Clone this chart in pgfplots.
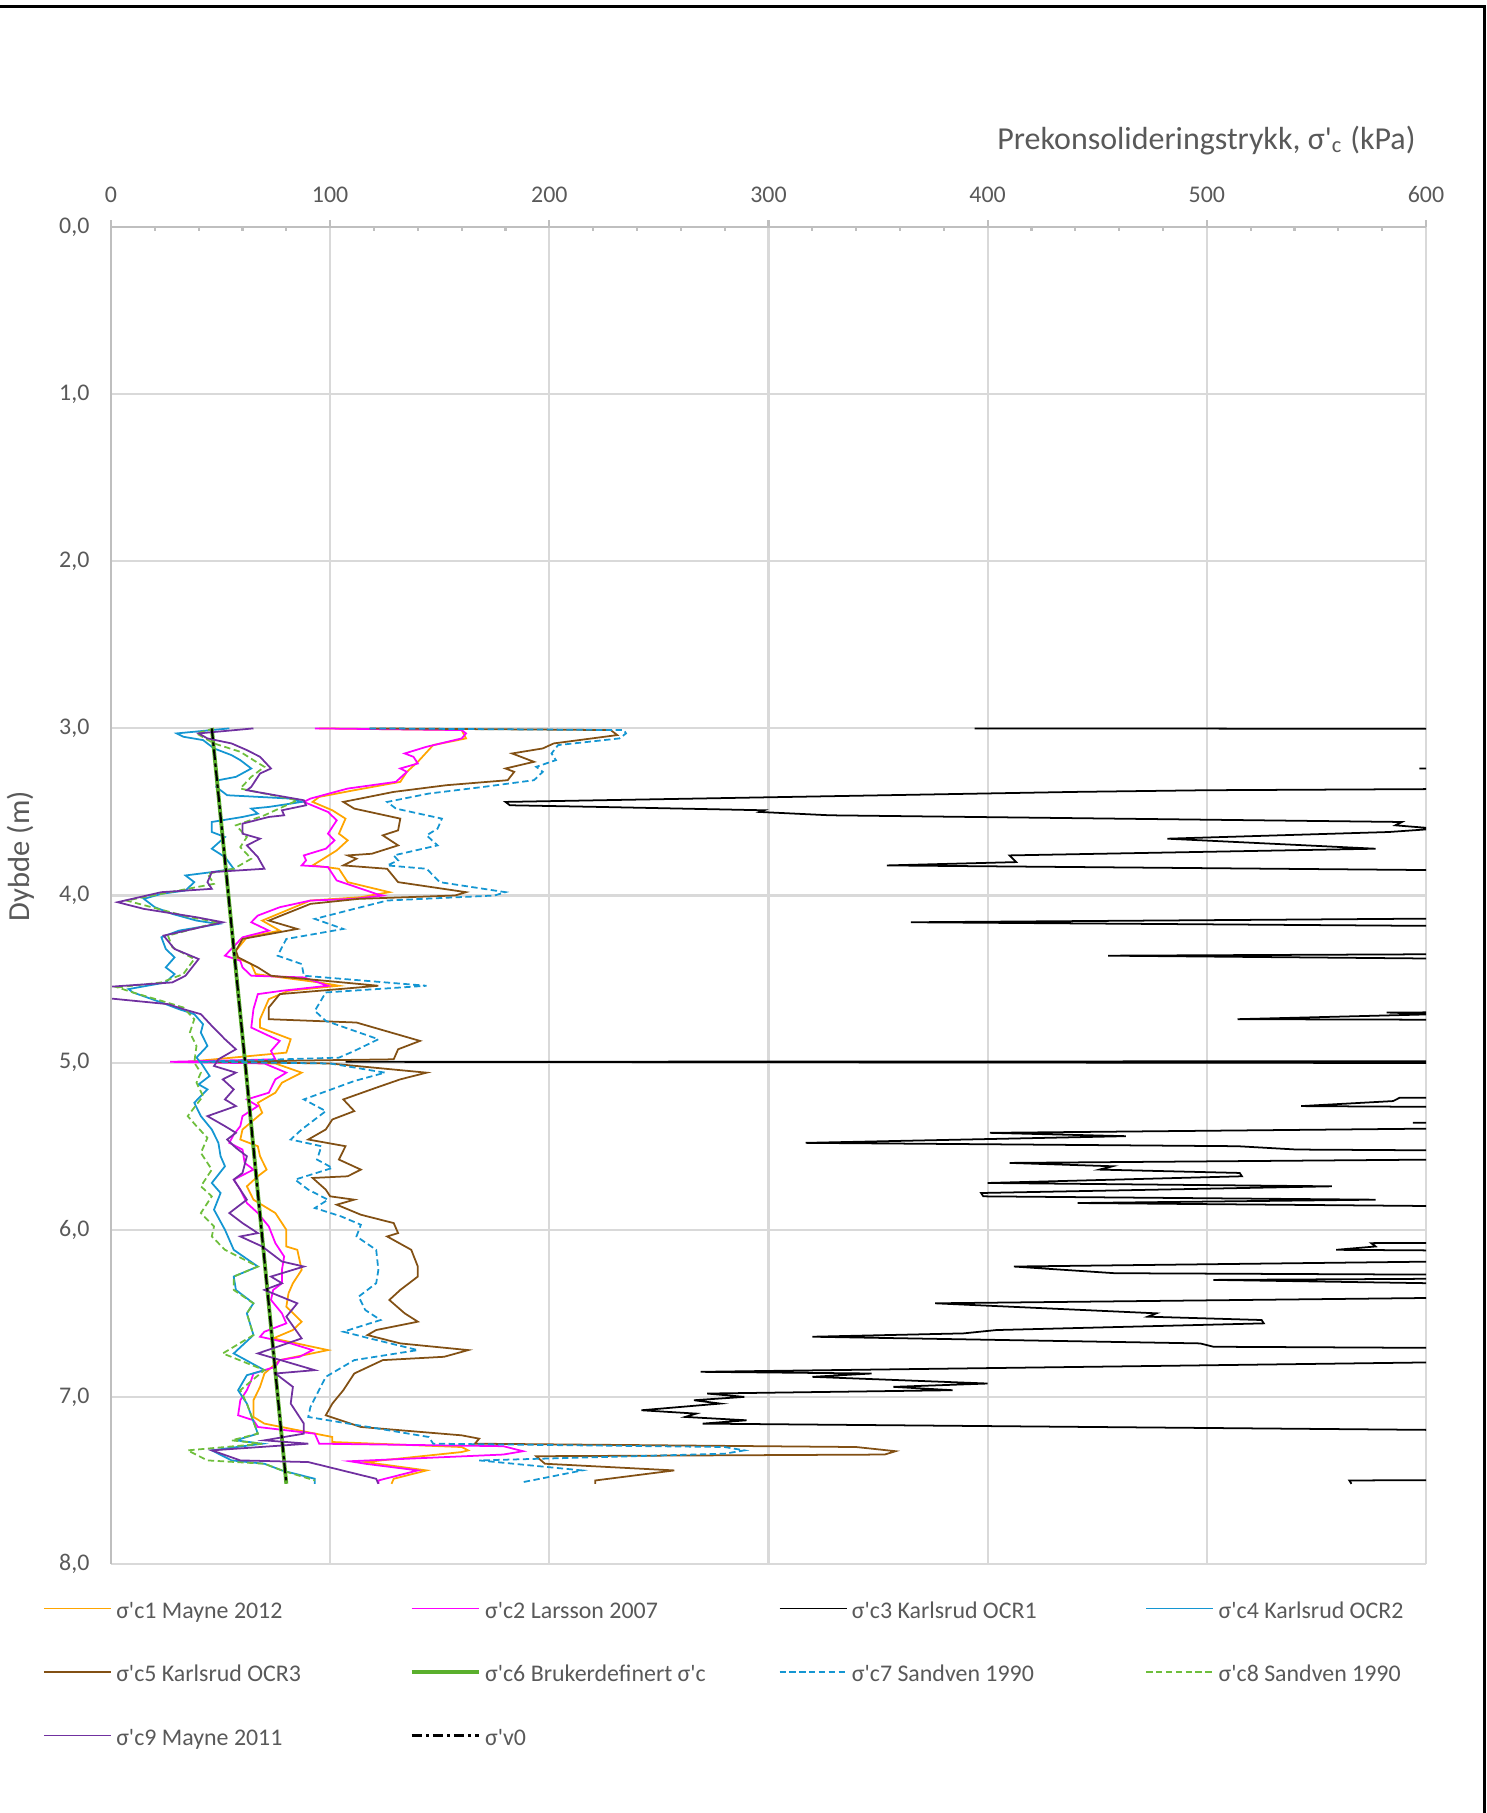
\documentclass[border=0pt]{standalone}
\usepackage{fontspec}
\setmainfont{Carlito}
\usepackage{pgfplots}
\pgfplotsset{compat=1.18}
\definecolor{cOr}{RGB}{255,165,0}
\definecolor{cMa}{RGB}{255,0,255}
\definecolor{cBl}{RGB}{20,150,210}
\definecolor{cBr}{RGB}{130,80,20}
\definecolor{cGr}{RGB}{90,175,45}
\definecolor{cGd}{RGB}{110,190,60}
\definecolor{cPu}{RGB}{112,48,160}
\definecolor{txt}{RGB}{89,89,89}
\definecolor{gridc}{RGB}{217,217,217}
\definecolor{axc}{RGB}{191,191,191}
\newcommand\q{\textquotesingle}
\newcommand\lgE[1]{\makebox[2.935cm][l]{#1}}
\begin{document}
\begin{tikzpicture}
\path[use as bounding box] (0,0) rectangle (14.87,18.13);
\begin{axis}[
  scale only axis, width=13.15cm, height=13.37cm,
  at={(1.11cm,2.49cm)}, anchor=south west,
  xmin=0, xmax=600, ymin=0, ymax=8, y dir=reverse,
  xtick={0,100,...,600}, ytick={0,1,...,8},
  major tick length=0pt, minor tick length=0pt,
  xticklabel pos=right,
  grid=major, major grid style={gridc, line width=0.6pt},
  axis line style={draw=none},
  clip mode=individual,
  /pgf/number format/assume math mode=true,
  ticklabel style={font=\fontsize{6.8}{8}\selectfont, text=txt},
  xticklabel style={yshift=1.19mm},
  yticklabel style={xshift=-0.92mm, /pgf/number format/.cd, fixed, fixed zerofill, precision=1, use comma},
  xlabel={Prekonsolideringstrykk, σ\q\textsubscript{c} (kPa)},
  xlabel style={at={(axis description cs:0.9925,1.0647)}, anchor=east, font=\fontsize{9.1}{11}\selectfont, text=txt, inner sep=0pt},
  ylabel={Dybde (m)},
  ylabel style={at={(axis description cs:-0.0684,0.5295)}, anchor=center, font=\fontsize{8.7}{10}\selectfont, text=txt, inner sep=0pt},
  legend columns=4,
  legend cell align=left,
  legend image code/.code={\draw[#1] (0cm,0.035cm) -- (0.67cm,0.035cm);},
  legend style={at={(axis description cs:-0.0517,-0.0277)}, anchor=north west, draw=none, fill=none,
    font=\fontsize{6.8}{8}\selectfont, text=txt, inner sep=0pt, outer sep=0pt,
    nodes={inner sep=0pt, text height=1.7mm, text depth=0.5mm},
    row sep=4.15mm, column sep=0pt,
    /tikz/every odd column/.append style={column sep=0.45mm}},
]
% sigma'c1 Mayne 2012
\addplot[cOr, line width=0.5pt] coordinates {
(95,3.00) (160,3.01) (162,3.06) (147,3.10) (140,3.20) (135,3.26) (132,3.32) (111,3.37) (95,3.41) (92,3.44) (101,3.49) (107,3.54) (104,3.63) (108,3.67) (103,3.73) (92,3.82) (104,3.84) (108,3.92) (127,3.98) (114,4.01) (91,4.03) (80,4.09) (69,4.15) (77,4.21) (62,4.25) (57,4.33) (57,4.37) (64,4.41) (66,4.47) (95,4.52) (104,4.54) (81,4.57) (72,4.62) (68,4.74) (68,4.79) (82,4.86) (80,4.94) (35,4.995) (75,5.005) (87,5.06) (78,5.12) (75,5.18) (67,5.24) (69,5.30) (60,5.40) (59,5.46) (67,5.50) (68,5.56) (71,5.64) (67,5.68) (62,5.74) (65,5.82) (75,5.90) (80,6.00) (80,6.10) (85,6.12) (87,6.24) (83,6.32) (81,6.38) (80,6.46) (87,6.55) (83,6.60) (74,6.65) (99,6.72) (77,6.78) (70,6.86) (68,6.94) (65,7.02) (65,7.12) (70,7.16) (101,7.24) (101,7.27) (160,7.30) (163,7.32) (160,7.33) (116,7.39) (144,7.44) (129,7.49) (128,7.52)
};
\addlegendentry{\lgE{σ\q c1 Mayne 2012}}
% sigma'c2 Larsson 2007
\addplot[cMa, line width=0.5pt] coordinates {
(93,3.00) (160,3.01) (162,3.03) (160,3.06) (144,3.11) (134,3.15) (138,3.17) (140,3.21) (132,3.24) (135,3.26) (130,3.32) (108,3.36) (91,3.42) (88,3.44) (99,3.50) (103,3.55) (99,3.63) (102,3.67) (98,3.72) (88,3.76) (89,3.79) (87,3.82) (99,3.83) (103,3.91) (121,3.99) (124,4.00) (111,4.02) (91,4.03) (77,4.07) (67,4.12) (64,4.16) (72,4.21) (60,4.25) (52,4.36) (59,4.39) (60,4.43) (64,4.48) (88,4.49) (99,4.54) (78,4.57) (67,4.59) (65,4.68) (64,4.79) (77,4.87) (73,4.93) (75,4.98) (27,4.995) (70,5.005) (80,5.06) (75,5.10) (72,5.18) (62,5.22) (67,5.26) (60,5.32) (59,5.38) (56,5.43) (54,5.48) (60,5.52) (61,5.60) (65,5.64) (56,5.70) (59,5.76) (62,5.84) (67,5.90) (72,5.98) (75,6.08) (79,6.16) (78,6.24) (78,6.32) (74,6.36) (73,6.42) (78,6.50) (80,6.56) (70,6.61) (68,6.64) (82,6.68) (92,6.72) (86,6.76) (77,6.78) (75,6.82) (70,6.84) (65,6.86) (64,6.90) (62,6.96) (59,7.02) (58,7.11) (65,7.14) (67,7.18) (93,7.22) (95,7.28) (179,7.295) (188,7.325) (179,7.345) (109,7.385) (116,7.40) (140,7.44) (122,7.50) (122,7.52)
};
\addlegendentry{\lgE{σ\q c2 Larsson 2007}}
% sigma'c3 Karlsrud OCR1
\addplot[black, line width=0.5pt] coordinates {
(394,3.00) (800,3.005) (800,3.23) (597,3.24) (800,3.25) (800,3.34) (650,3.36) (500,3.37) (440,3.38) (223,3.43) (180,3.44) (182,3.46) (223,3.47) (298,3.49) (296,3.50) (328,3.52) (589,3.56) (586,3.58) (605,3.60) (583,3.62) (482,3.66) (577,3.72) (410,3.76) (413,3.80) (354,3.82) (800,3.87) (800,4.12) (365,4.16) (800,4.20) (800,4.34) (455,4.36) (800,4.40) (800,4.69) (582,4.70) (605,4.71) (514,4.74) (800,4.75) (800,4.99) (107,4.995) (800,5.005) (800,5.20) (588,5.21) (585,5.23) (543,5.26) (800,5.28) (800,5.35) (594,5.36) (800,5.37) (401,5.42) (463,5.44) (317,5.48) (514,5.50) (541,5.52) (800,5.54) (800,5.56) (410,5.60) (457,5.62) (451,5.64) (515,5.66) (516,5.68) (400,5.72) (557,5.74) (397,5.78) (398,5.80) (577,5.82) (441,5.84) (800,5.88) (800,6.07) (575,6.08) (577,6.10) (559,6.12) (800,6.14) (800,6.16) (412,6.22) (458,6.26) (800,6.28) (503,6.30) (800,6.36) (800,6.38) (376,6.44) (477,6.50) (473,6.52) (525,6.54) (526,6.56) (404,6.60) (389,6.62) (320,6.64) (497,6.68) (503,6.70) (800,6.72) (800,6.76) (269,6.85) (347,6.86) (320,6.88) (400,6.92) (357,6.94) (384,6.96) (272,6.98) (289,7.00) (266,7.02) (278,7.04) (242,7.08) (267,7.10) (262,7.12) (290,7.14) (270,7.16) (800,7.22) (800,7.49) (565,7.50) (566,7.52)
};
\addlegendentry{\lgE{σ\q c3 Karlsrud OCR1}}
% sigma'c4 Karlsrud OCR2
\addplot[cBl, line width=0.5pt] coordinates {
(54,3.00) (30,3.03) (33,3.05) (42,3.07) (47,3.12) (55,3.16) (59,3.19) (64,3.24) (57,3.29) (49,3.31) (48,3.35) (53,3.40) (82,3.42) (87,3.44) (72,3.47) (64,3.48) (67,3.51) (60,3.53) (46,3.56) (46,3.62) (52,3.65) (46,3.72) (52,3.77) (56,3.84) (46,3.86) (34,3.88) (38,3.92) (34,3.97) (23,3.99) (15,4.02) (20,4.07) (28,4.11) (39,4.15) (49,4.17) (31,4.21) (23,4.25) (25,4.32) (29,4.37) (25,4.43) (29,4.47) (25,4.52) (8,4.56) (10,4.58) (23,4.64) (31,4.68) (38,4.71) (42,4.77) (41,4.82) (44,4.90) (39,4.97) (41,5.00) (45,5.08) (40,5.13) (44,5.16) (38,5.24) (41,5.32) (46,5.40) (49,5.48) (50,5.56) (52,5.62) (46,5.72) (50,5.78) (47,5.88) (52,6.00) (56,6.12) (67,6.22) (56,6.28) (57,6.36) (65,6.44) (62,6.50) (65,6.63) (56,6.74) (70,6.84) (62,6.87) (58,6.96) (62,7.04) (67,7.22) (57,7.26) (69,7.28) (46,7.32) (55,7.38) (70,7.40) (78,7.44) (93,7.49) (93,7.52)
};
\addlegendentry{\lgE{σ\q c4 Karlsrud OCR2}}
% sigma'c5 Karlsrud OCR3
\addplot[cBr, line width=0.5pt] coordinates {
(118,3.00) (228,3.01) (231,3.04) (202,3.09) (197,3.12) (183,3.15) (193,3.20) (180,3.24) (184,3.26) (181,3.31) (153,3.34) (129,3.38) (106,3.44) (111,3.48) (132,3.54) (131,3.61) (124,3.64) (131,3.70) (119,3.75) (108,3.76) (112,3.78) (106,3.82) (126,3.84) (131,3.92) (162,3.98) (157,4.00) (113,4.02) (91,4.05) (72,4.15) (85,4.20) (60,4.26) (57,4.33) (58,4.37) (67,4.43) (73,4.48) (122,4.54) (77,4.59) (72,4.67) (72,4.74) (112,4.76) (141,4.87) (131,4.92) (129,4.98) (45,4.995) (100,5.005) (144,5.06) (132,5.10) (121,5.15) (106,5.22) (111,5.29) (101,5.34) (98,5.40) (90,5.46) (107,5.50) (104,5.58) (114,5.64) (108,5.68) (92,5.69) (98,5.76) (100,5.80) (111,5.82) (103,5.85) (114,5.91) (129,5.96) (131,6.02) (126,6.04) (137,6.12) (140,6.22) (140,6.28) (132,6.36) (127,6.42) (134,6.50) (140,6.55) (121,6.60) (117,6.63) (132,6.68) (163,6.72) (152,6.76) (124,6.78) (111,6.86) (106,6.96) (101,7.04) (98,7.11) (114,7.18) (160,7.23) (168,7.25) (166,7.28) (340,7.30) (358,7.325) (353,7.345) (194,7.355) (198,7.40) (257,7.44) (221,7.50) (221,7.52)
};
\addlegendentry{\lgE{σ\q c5 Karlsrud OCR3}}
% sigma'c6 Brukerdefinert
\addplot[cGr, line width=1.1pt] coordinates {
(46,3.00) (61.2,5.00) (80,7.52)
};
\addlegendentry{\lgE{σ\q c6 Brukerdefinert σ\q c}}
% sigma'c7 Sandven 1990
\addplot[cBl, line width=0.5pt, dash pattern=on 1.8pt off 1pt] coordinates {
(118,3.00) (234,3.01) (235,3.03) (232,3.06) (204,3.10) (201,3.15) (203,3.19) (194,3.23) (197,3.26) (193,3.31) (170,3.35) (145,3.39) (126,3.44) (130,3.48) (151,3.54) (149,3.60) (144,3.64) (149,3.70) (129,3.76) (131,3.79) (126,3.82) (144,3.84) (150,3.92) (180,3.98) (175,4.00) (126,4.03) (93,4.14) (106,4.20) (80,4.26) (76,4.36) (87,4.41) (88,4.48) (144,4.54) (98,4.58) (93,4.69) (98,4.75) (122,4.86) (111,4.93) (104,4.97) (40,4.995) (100,5.005) (125,5.06) (111,5.11) (88,5.22) (98,5.29) (87,5.40) (82,5.46) (96,5.50) (94,5.58) (101,5.63) (84,5.70) (90,5.76) (99,5.82) (93,5.87) (105,5.92) (114,5.97) (112,6.04) (121,6.12) (122,6.24) (121,6.32) (113,6.40) (116,6.48) (123,6.54) (106,6.61) (118,6.65) (140,6.72) (111,6.78) (98,6.88) (91,7.06) (90,7.12) (145,7.24) (147,7.28) (280,7.30) (289,7.32) (280,7.34) (168,7.38) (215,7.44) (188,7.51)
};
\addlegendentry{\lgE{σ\q c7 Sandven 1990}}
% sigma'c8 Sandven 1990
\addplot[cGd, line width=0.5pt, dash pattern=on 1.8pt off 1pt] coordinates {
(47,3.00) (39,3.03) (47,3.09) (59,3.14) (65,3.19) (70,3.23) (64,3.29) (59,3.36) (85,3.43) (75,3.49) (70,3.52) (57,3.58) (62,3.65) (59,3.71) (64,3.78) (56,3.84) (44,3.87) (47,3.93) (23,3.99) (7,4.03) (36,4.13) (49,4.16) (26,4.24) (28,4.31) (38,4.38) (33,4.47) (23,4.52) (3,4.55) (10,4.58) (23,4.63) (33,4.67) (38,4.74) (36,4.82) (39,4.90) (38,5.00) (41,5.06) (39,5.12) (42,5.20) (35,5.32) (39,5.38) (44,5.45) (41,5.54) (46,5.64) (41,5.74) (46,5.80) (41,5.90) (47,5.98) (46,6.04) (52,6.12) (67,6.22) (56,6.28) (56,6.36) (65,6.44) (62,6.50) (65,6.63) (51,6.74) (70,6.84) (59,6.96) (62,7.04) (67,7.22) (55,7.26) (69,7.28) (35,7.32) (44,7.38) (70,7.40) (78,7.44) (93,7.50)
};
\addlegendentry{\lgE{σ\q c8 Sandven 1990}}
% sigma'c9 Mayne 2011
\addplot[cPu, line width=0.5pt] coordinates {
(65,3.00) (40,3.03) (44,3.06) (55,3.09) (62,3.13) (68,3.17) (73,3.24) (68,3.27) (64,3.35) (62,3.37) (88,3.43) (89,3.46) (78,3.49) (79,3.52) (72,3.53) (60,3.57) (60,3.63) (68,3.66) (62,3.70) (67,3.77) (70,3.84) (46,3.86) (44,3.92) (46,3.96) (23,3.98) (3,4.04) (15,4.08) (39,4.13) (51,4.16) (24,4.24) (29,4.32) (40,4.38) (34,4.48) (28,4.52) (-5,4.55) (-5,4.61) (26,4.65) (33,4.68) (41,4.71) (46,4.78) (52,4.86) (57,4.92) (49,4.98) (47,5.02) (57,5.06) (51,5.10) (56,5.16) (52,5.22) (57,5.26) (44,5.32) (52,5.38) (57,5.42) (53,5.46) (57,5.51) (62,5.56) (60,5.66) (56,5.70) (59,5.76) (62,5.82) (54,5.90) (60,5.96) (67,6.02) (59,6.04) (69,6.10) (78,6.19) (88,6.22) (73,6.28) (78,6.32) (70,6.36) (85,6.44) (80,6.52) (87,6.65) (67,6.74) (93,6.84) (75,6.86) (83,6.94) (82,7.04) (88,7.16) (88,7.22) (70,7.26) (90,7.28) (46,7.32) (59,7.38) (90,7.39) (121,7.49) (122,7.52)
};
\addlegendentry{\lgE{σ\q c9 Mayne 2011}}
% sigma'v0
\addplot[black, line width=0.6pt, dash pattern=on 3pt off 1pt on 1pt off 1pt] coordinates {
(46,3.00) (61.2,5.00) (80,7.52)
};
\addlegendentry{\lgE{σ\q v0}}
% axis lines and ticks
\draw[axc, line width=0.7pt] (axis cs:0,0) -- (axis cs:600,0);
\draw[axc, line width=0.7pt] (axis cs:0,0) -- (axis cs:0,8);
\pgfplotsinvokeforeach{0,100,200,300,400,500,600}{\draw[axc, line width=0.6pt] (axis cs:#1,0) -- ++(0pt,2pt);}
\pgfplotsinvokeforeach{20,40,60,80,120,140,160,180,220,240,260,280,320,340,360,380,420,440,460,480,520,540,560,580}{\draw[axc, line width=0.6pt] (axis cs:#1,0) -- ++(0pt,-1.1pt);}
\end{axis}
\draw[black, line width=0.33mm] (0,18.065) -- (14.845,18.065) -- (14.845,0);
\end{tikzpicture}
\end{document}
